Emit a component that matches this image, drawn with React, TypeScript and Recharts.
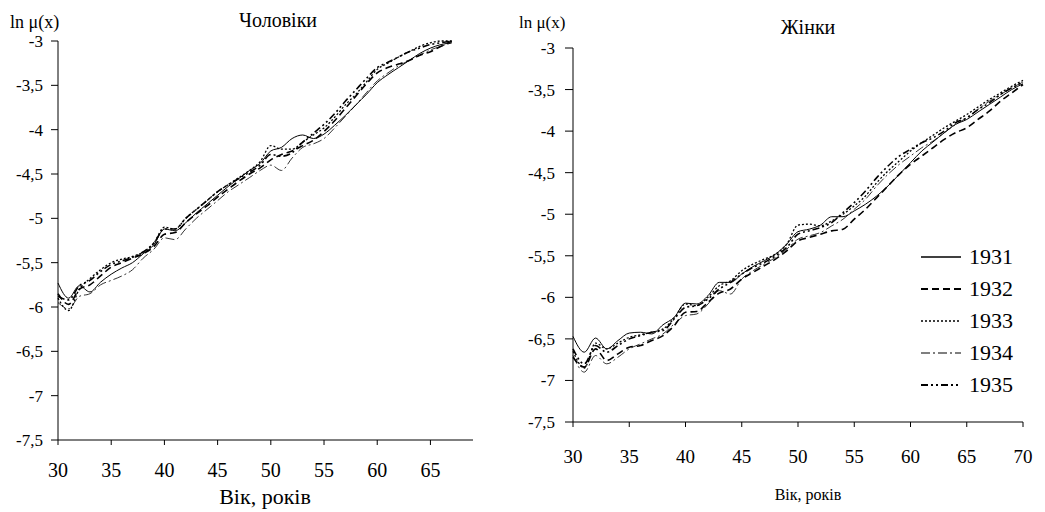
import React from 'react'
import { LineChart, Line, XAxis, YAxis, Legend } from 'recharts'

// ages, years of life
const menAges = [30, 31, 32, 33, 34, 35, 36, 37, 38, 39, 40, 41, 42, 43, 44, 45, 46, 47, 48, 49, 50, 51, 52, 53, 54, 55, 56, 57, 58, 59, 60, 61, 62, 63, 64, 65, 66, 67]
const womenAges = [30, 31, 32, 33, 34, 35, 36, 37, 38, 39, 40, 41, 42, 43, 44, 45, 46, 47, 48, 49, 50, 51, 52, 53, 54, 55, 56, 57, 58, 59, 60, 61, 62, 63, 64, 65, 66, 67, 68, 69, 70]

// ln mu(x), men
const men1931 = [-5.73, -5.9, -5.76, -5.83, -5.72, -5.63, -5.56, -5.5, -5.4, -5.3, -5.12, -5.14, -5.05, -4.94, -4.84, -4.74, -4.64, -4.55, -4.46, -4.38, -4.24, -4.2, -4.1, -4.06, -4.1, -4.05, -3.95, -3.84, -3.72, -3.6, -3.47, -3.38, -3.3, -3.22, -3.14, -3.08, -3.04, -3.02]
const men1932 = [-5.85, -5.97, -5.8, -5.75, -5.65, -5.55, -5.5, -5.45, -5.4, -5.32, -5.18, -5.16, -5.05, -4.95, -4.86, -4.76, -4.67, -4.58, -4.5, -4.43, -4.34, -4.28, -4.24, -4.18, -4.12, -4.02, -3.9, -3.76, -3.62, -3.48, -3.36, -3.3, -3.26, -3.22, -3.16, -3.12, -3.06, -3.0]
const men1933 = [-5.9, -6.04, -5.8, -5.68, -5.58, -5.5, -5.46, -5.43, -5.38, -5.28, -5.1, -5.12, -5.0, -4.9, -4.8, -4.7, -4.62, -4.54, -4.46, -4.36, -4.18, -4.22, -4.22, -4.14, -4.06, -3.98, -3.86, -3.72, -3.6, -3.46, -3.32, -3.25, -3.18, -3.12, -3.06, -3.02, -3.0, -3.0]
const men1934 = [-5.95, -6.02, -5.88, -5.85, -5.75, -5.7, -5.65, -5.58, -5.45, -5.35, -5.22, -5.24, -5.12, -5.0, -4.9, -4.8, -4.7, -4.62, -4.54, -4.46, -4.4, -4.46, -4.32, -4.2, -4.16, -4.1, -3.98, -3.85, -3.72, -3.58, -3.45, -3.36, -3.28, -3.22, -3.16, -3.1, -3.06, -3.02]
const men1935 = [-5.88, -5.92, -5.76, -5.7, -5.6, -5.52, -5.48, -5.44, -5.38, -5.28, -5.12, -5.12, -5.0, -4.9, -4.8, -4.7, -4.62, -4.55, -4.48, -4.4, -4.28, -4.3, -4.26, -4.14, -4.04, -3.94, -3.82, -3.68, -3.55, -3.42, -3.3, -3.24, -3.18, -3.12, -3.08, -3.04, -3.02, -3.0]

// ln mu(x), women
const women1931 = [-6.47, -6.66, -6.49, -6.62, -6.52, -6.43, -6.42, -6.44, -6.33, -6.24, -6.07, -6.08, -5.98, -5.82, -5.82, -5.72, -5.63, -5.56, -5.48, -5.36, -5.21, -5.18, -5.13, -5.03, -5.03, -4.96, -4.88, -4.78, -4.66, -4.52, -4.38, -4.24, -4.13, -4.02, -3.92, -3.86, -3.77, -3.68, -3.59, -3.5, -3.43]
const women1932 = [-6.72, -6.84, -6.62, -6.76, -6.68, -6.6, -6.58, -6.52, -6.46, -6.34, -6.18, -6.17, -6.06, -5.95, -5.9, -5.78, -5.7, -5.62, -5.54, -5.44, -5.32, -5.28, -5.24, -5.2, -5.18, -5.06, -4.94, -4.8, -4.66, -4.52, -4.4, -4.3, -4.2, -4.1, -4.02, -3.96, -3.86, -3.76, -3.64, -3.54, -3.44]
const women1933 = [-6.65, -6.85, -6.55, -6.62, -6.55, -6.48, -6.45, -6.42, -6.38, -6.25, -6.08, -6.1, -6.0, -5.86, -5.8, -5.68, -5.6, -5.54, -5.48, -5.36, -5.13, -5.12, -5.14, -5.08, -5.0, -4.9, -4.78, -4.62, -4.48, -4.36, -4.24, -4.14, -4.05, -3.96, -3.88, -3.8, -3.71, -3.62, -3.54, -3.46, -3.39]
const women1934 = [-6.7, -6.9, -6.7, -6.8, -6.72, -6.62, -6.56, -6.5, -6.44, -6.32, -6.22, -6.2, -6.08, -5.92, -5.96, -5.78, -5.68, -5.6, -5.52, -5.42, -5.3, -5.26, -5.22, -5.14, -5.06, -4.94, -4.82, -4.66, -4.52, -4.4, -4.3, -4.2, -4.12, -4.02, -3.92, -3.84, -3.74, -3.64, -3.56, -3.48, -3.41]
const women1935 = [-6.62, -6.8, -6.58, -6.66, -6.58, -6.5, -6.46, -6.42, -6.4, -6.26, -6.12, -6.1, -6.02, -5.9, -5.82, -5.72, -5.64, -5.58, -5.5, -5.4, -5.24, -5.2, -5.16, -5.1, -4.98, -4.86, -4.72, -4.56, -4.42, -4.3, -4.22, -4.14, -4.08, -4.0, -3.9, -3.84, -3.74, -3.66, -3.56, -3.48, -3.41]

const menTicks = [30, 35, 40, 45, 50, 55, 60, 65]
const womenTicks = [30, 35, 40, 45, 50, 55, 60, 65, 70]
const yTicks = [-7.5, -7, -6.5, -6, -5.5, -5, -4.5, -4, -3.5, -3]

const series = [
  { key: 'y1931', name: '1931', width: 1, dash: undefined },
  { key: 'y1932', name: '1932', width: 1.6, dash: '7 4' },
  { key: 'y1933', name: '1933', width: 1.3, dash: '2 2' },
  { key: 'y1934', name: '1934', width: 0.8, dash: '9 3 2 3' },
  { key: 'y1935', name: '1935', width: 1.6, dash: '7 3 2 3 2 3' },
]

const menData = menAges.map((age, i) => ({
  age,
  y1931: men1931[i],
  y1932: men1932[i],
  y1933: men1933[i],
  y1934: men1934[i],
  y1935: men1935[i],
}))

const womenData = womenAges.map((age, i) => ({
  age,
  y1931: women1931[i],
  y1932: women1932[i],
  y1933: women1933[i],
  y1934: women1934[i],
  y1935: women1935[i],
}))

const font = "'Liberation Serif', 'Times New Roman', serif"
const fmt = (v: number) => String(v).replace('.', ',')

function XTick({ x, y, payload, dy, size }: any) {
  return (
    <text x={x} y={y + dy} textAnchor="middle" style={{ fontFamily: font, fontSize: size, fill: '#000' }}>
      {payload.value}
    </text>
  )
}

function YTick({ x, y, payload, gap }: any) {
  return (
    <text x={x - gap} y={y + 6} textAnchor="end" style={{ fontFamily: font, fontSize: 17, fill: '#000' }}>
      {fmt(payload.value)}
    </text>
  )
}

function Text({ x, y, size, children, center }: any) {
  return (
    <div
      style={{
        position: 'absolute',
        left: x,
        top: y,
        fontFamily: font,
        fontSize: size,
        color: '#000',
        whiteSpace: 'nowrap',
        lineHeight: 1,
        transform: center ? 'translate(-50%, -50%)' : 'translateY(-50%)',
      }}
    >
      {children}
    </div>
  )
}

function LegendBox() {
  return (
    <div style={{ fontFamily: font }}>
      {series.map((s) => (
        <div key={s.key} style={{ display: 'flex', alignItems: 'center', height: 32 }}>
          <svg width={42} height={10}>
            <line x1={0} y1={5} x2={40} y2={5} stroke="#000" strokeWidth={s.width + 0.3} strokeDasharray={s.dash} />
          </svg>
          <span style={{ fontSize: 22, marginLeft: 6 }}>{s.name}</span>
        </div>
      ))}
    </div>
  )
}

function lines() {
  return series.map((s) => (
    <Line
      key={s.key}
      type="monotone"
      dataKey={s.key}
      name={s.name}
      stroke="#000"
      strokeWidth={s.width}
      strokeDasharray={s.dash}
      dot={false}
      isAnimationActive={false}
    />
  ))
}

export default function App() {
  return (
    <div style={{ position: 'absolute', left: 0, top: 0, width: 1045, height: 512, background: '#fff', overflow: 'hidden', fontFamily: font }}>
      <div style={{ position: 'absolute', left: 0, top: 0 }}>
        <LineChart width={480} height={512} data={menData} margin={{ top: 41, right: 7, bottom: 40, left: 0 }}>
          <XAxis
            dataKey="age"
            type="number"
            domain={[30, 69]}
            ticks={menTicks}
            stroke="#000"
            tickSize={5}
            tick={<XTick dy={30} size={20} />}
            height={32}
          />
          <YAxis
            type="number"
            domain={[-7.5, -3]}
            ticks={yTicks}
            stroke="#000"
            tickSize={7}
            tick={<YTick gap={6} />}
            width={58}
          />
          {lines()}
        </LineChart>
      </div>
      <div style={{ position: 'absolute', left: 520, top: 0 }}>
        <LineChart width={525} height={512} data={womenData} margin={{ top: 48, right: 22, bottom: 56, left: 0 }}>
          <XAxis
            dataKey="age"
            type="number"
            domain={[30, 70]}
            ticks={womenTicks}
            stroke="#000"
            tickSize={5}
            tick={<XTick dy={34} size={19} />}
            height={34}
          />
          <YAxis
            type="number"
            domain={[-7.5, -3]}
            ticks={yTicks}
            stroke="#000"
            tickSize={8}
            tick={<YTick gap={8} />}
            width={53}
          />
          <Legend
            layout="vertical"
            align="center"
            verticalAlign="middle"
            content={() => <LegendBox />}
            wrapperStyle={{ position: 'absolute', left: 401, top: 241, width: 124 }}
          />
          {lines()}
        </LineChart>
      </div>
      <Text x={10} y={22} size={18}>ln μ(x)</Text>
      <Text x={278} y={20} size={20} center>Чоловіки</Text>
      <Text x={265} y={497} size={22} center>Вік, років</Text>
      <Text x={519} y={22} size={17}>ln μ(x)</Text>
      <Text x={808} y={27} size={20} center>Жінки</Text>
      <Text x={808} y={495} size={16} center>Вік, років</Text>
    </div>
  )
}
